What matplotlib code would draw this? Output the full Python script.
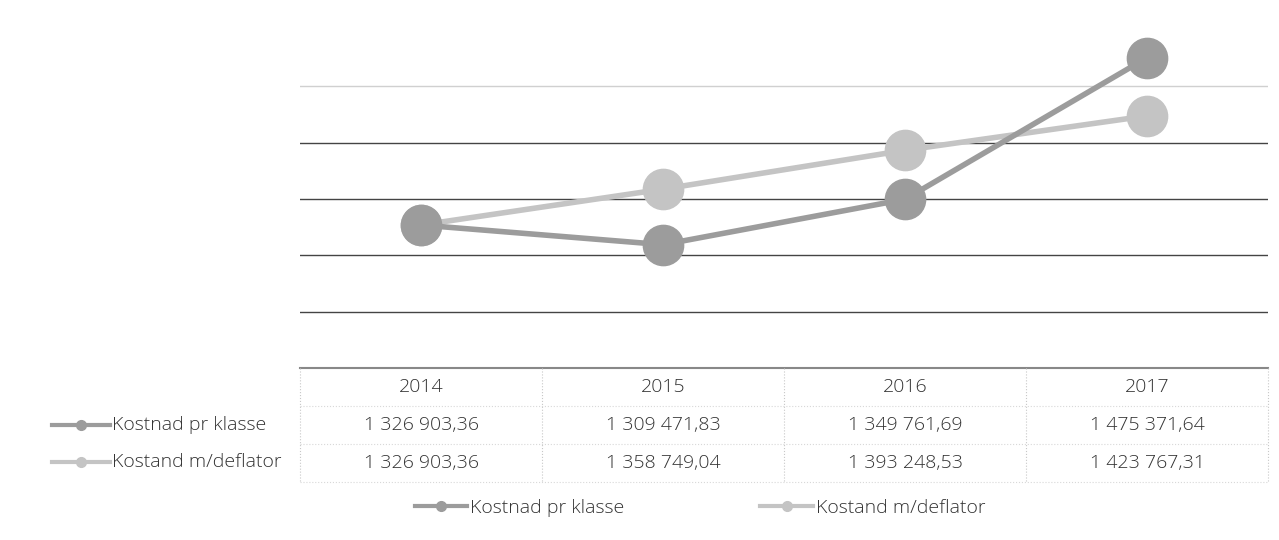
import numpy as np
import matplotlib
matplotlib.use('Agg')
import matplotlib.pyplot as plt
from matplotlib.lines import Line2D

years = ['2014', '2015', '2016', '2017']
kostnad = [1326903.36, 1309471.83, 1349761.69, 1475371.64]
deflator = [1326903.36, 1358749.04, 1393248.53, 1423767.31]
series_names = ['Kostnad pr klasse', 'Kostand m/deflator']


def fmt(v):
    s = '{:,.2f}'.format(v)
    return s.replace(',', ' ').replace('.', ',')


plt.rcParams['font.family'] = ['Open Sans', 'DejaVu Sans']
plt.rcParams['font.weight'] = 'light'

col1 = '#9c9c9c'
col2 = '#c4c4c4'
txt = '#333333'

fig = plt.figure(figsize=(12.79, 5.40), dpi=100)
L, R = 300 / 1279, 1268 / 1279
ax = fig.add_axes([L, 1 - 368 / 540, R - L, (368 - 30) / 540])

ind = np.arange(len(years))
ax.plot(ind, kostnad, '-o', color=col1, lw=4, ms=29, mec=col1, label=series_names[0], zorder=3)
ax.plot(ind, deflator, '-o', color=col2, lw=4, ms=29, mec=col2, label=series_names[1], zorder=2)

ax.set_xlim(-0.5, 3.5)
ax.set_ylim(1200000, 1500000)
ax.set_yticks([1250000, 1300000, 1350000, 1400000, 1450000])
ax.grid(axis='y', color='#444444', lw=1)
ax.get_ygridlines()[-1].set_color('#d0d0d0')
ax.tick_params(left=False, bottom=False, labelleft=False, labelbottom=False)
for s in ['top', 'left', 'right']:
    ax.spines[s].set_visible(False)
ax.spines['bottom'].set_color('#888888')
ax.spines['bottom'].set_linewidth(1.5)

# data table below
tax = fig.add_axes([L, 1 - 482 / 540, R - L, (482 - 368) / 540], sharex=ax)
tax.set_ylim(3, 0)
tax.axis('off')
rows = [kostnad, deflator]
fs = 14
for i, y in enumerate(years):
    tax.text(i, 0.5, y, ha='center', va='center', fontsize=fs, color=txt)
    for r, vals in enumerate(rows):
        tax.text(i, 1.5 + r, fmt(vals[i]), ha='center', va='center', fontsize=fs, color=txt)
for xb in np.arange(-0.5, 4.0, 1.0):
    tax.plot([xb, xb], [0, 3], color='#c8c8c8', lw=0.8, ls=':', clip_on=False)
for yb in [1, 2, 3]:
    tax.plot([-0.5, 3.5], [yb, yb], color='#d8d8d8', lw=0.8, ls=':', clip_on=False)

cols = [col1, col2]
for r, name in enumerate(series_names):
    yf = 1 - (425 + 37 * r) / 540
    fig.add_artist(Line2D([52 / 1279, 110 / 1279], [yf, yf], color=cols[r], lw=3,
                          transform=fig.transFigure))
    fig.add_artist(Line2D([81 / 1279], [yf], marker='o', ms=7, color=cols[r],
                          transform=fig.transFigure))
    fig.text(112 / 1279, yf, name, ha='left', va='center', fontsize=fs, color=txt)

handles = [Line2D([], [], color=col1, lw=3, marker='o', ms=7),
           Line2D([], [], color=col2, lw=3, marker='o', ms=7)]
fig.legend(handles, series_names, loc='center', bbox_to_anchor=(700 / 1279, 1 - 508 / 540),
           ncol=2, frameon=False, fontsize=fs, columnspacing=7, handlelength=2.7,
           handletextpad=0.15, labelcolor=txt)

fig.savefig('out.png', dpi=100)
